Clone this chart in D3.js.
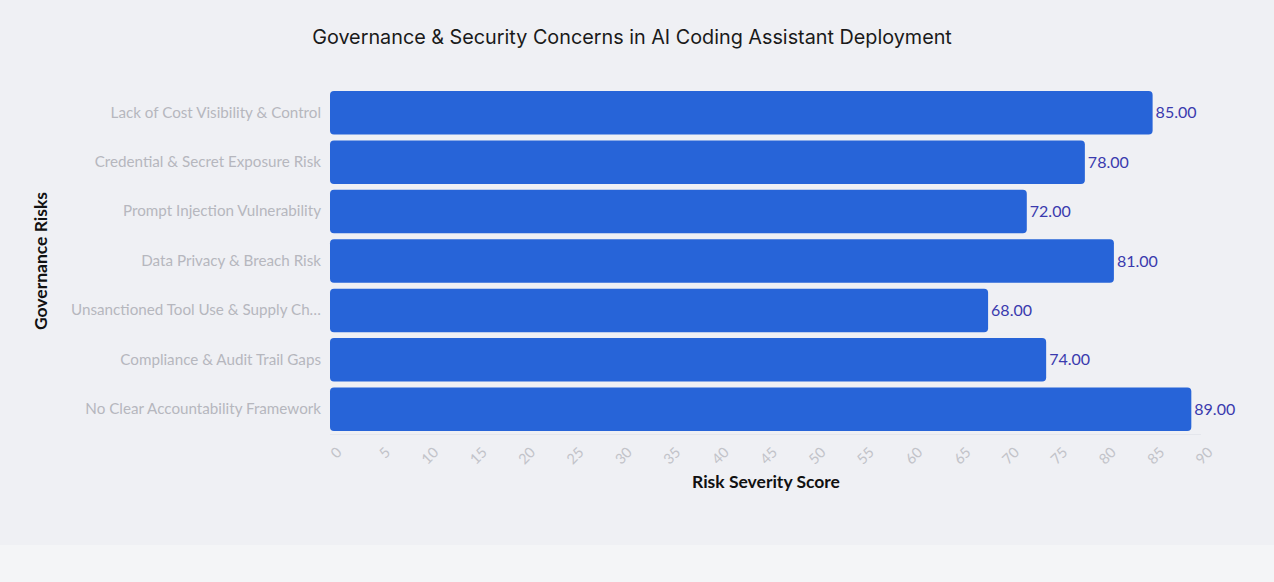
<!DOCTYPE html>
<html>
<head>
<meta charset="utf-8">
<script src="https://cdn.jsdelivr.net/npm/d3@7"></script>
<style>
  body { margin: 0; background: #f4f5f7; }
  svg { display: block; }
</style>
</head>
<body>
<script>
// chart data
let risks = [
  "Lack of Cost Visibility & Control",
  "Credential & Secret Exposure Risk",
  "Prompt Injection Vulnerability",
  "Data Privacy & Breach Risk",
  "Unsanctioned Tool Use & Supply Chain Risk",
  "Compliance & Audit Trail Gaps",
  "No Clear Accountability Framework"
];
let scores = [85, 78, 72, 81, 68, 74, 89];
let xTicks = d3.range(0, 91, 5);

let width = 1274, height = 582;
let labelFont = "'Source Sans Pro', Lato, 'Noto Sans', sans-serif";

let svg = d3.select("body")
  .append("svg")
  .attr("width", width)
  .attr("height", height);

svg.append("rect")
  .attr("width", width)
  .attr("height", 545)
  .attr("fill", "#eff0f4");

let x = d3.scaleLinear().domain([0, 90]).range([330, 1201]);
let y = d3.scaleBand().domain(risks).range([88, 434]).paddingInner(0.12).paddingOuter(0.06);

// title
svg.append("text")
  .attr("x", 632)
  .attr("y", 44)
  .attr("text-anchor", "middle")
  .style("font-family", "Inter, 'Liberation Sans', sans-serif")
  .style("font-size", "19.8px")
  .attr("fill", "#1a1a1a")
  .text("Governance & Security Concerns in AI Coding Assistant Deployment");

// subtle baseline under plot
svg.append("line")
  .attr("x1", 330).attr("x2", 1201)
  .attr("y1", 434.5).attr("y2", 434.5)
  .attr("stroke", "#e4e6ec");

// bars
svg.append("g")
  .selectAll("rect")
  .data(scores)
  .join("rect")
  .attr("x", x(0))
  .attr("y", function(d, i) { return y(risks[i]); })
  .attr("width", function(d) { return x(d) - x(0); })
  .attr("height", y.bandwidth())
  .attr("rx", 4)
  .attr("fill", "#2764d8");

// value labels
svg.append("g")
  .selectAll("text")
  .data(scores)
  .join("text")
  .attr("x", function(d) { return x(d) + 3; })
  .attr("y", function(d, i) { return y(risks[i]) + y.bandwidth() / 2; })
  .attr("dy", "0.35em")
  .style("font-family", labelFont)
  .style("font-size", "16px")
  .attr("fill", "#3a3aae")
  .text(function(d) { return d.toFixed(2); });

// y axis
let yAxis = svg.append("g")
  .attr("transform", "translate(330,0)")
  .call(d3.axisLeft(y).tickSize(0).tickPadding(9));
yAxis.select(".domain").remove();
yAxis.selectAll("text")
  .style("font-family", labelFont)
  .style("font-size", "15.2px")
  .attr("fill", "#b6b7be")
  .each(function() {
    // shorten long labels with an ellipsis
    let t = d3.select(this), full = t.text(), n = full.length;
    while (this.getComputedTextLength() > 256 && n > 1) {
      n--;
      t.text(full.slice(0, n).trimEnd() + "…");
    }
  });

// x axis
let xAxis = svg.append("g")
  .attr("transform", "translate(0,442)")
  .call(d3.axisBottom(x).tickValues(xTicks).tickSize(0).tickPadding(0));
xAxis.select(".domain").remove();
xAxis.selectAll("text")
  .style("font-family", labelFont)
  .style("font-size", "14.5px")
  .attr("fill", "#c2c3c9")
  .attr("text-anchor", "end")
  .attr("dy", "0.9em")
  .attr("transform", "translate(3,2) rotate(-45)");

// axis titles
svg.append("text")
  .attr("x", 766)
  .attr("y", 488)
  .attr("text-anchor", "middle")
  .style("font-family", labelFont)
  .style("font-size", "17.5px")
  .style("font-weight", "bold")
  .attr("fill", "#111")
  .text("Risk Severity Score");

svg.append("text")
  .attr("transform", "translate(47,261) rotate(-90)")
  .attr("text-anchor", "middle")
  .style("font-family", labelFont)
  .style("font-size", "17.5px")
  .style("font-weight", "bold")
  .attr("fill", "#111")
  .text("Governance Risks");
</script>
</body>
</html>
